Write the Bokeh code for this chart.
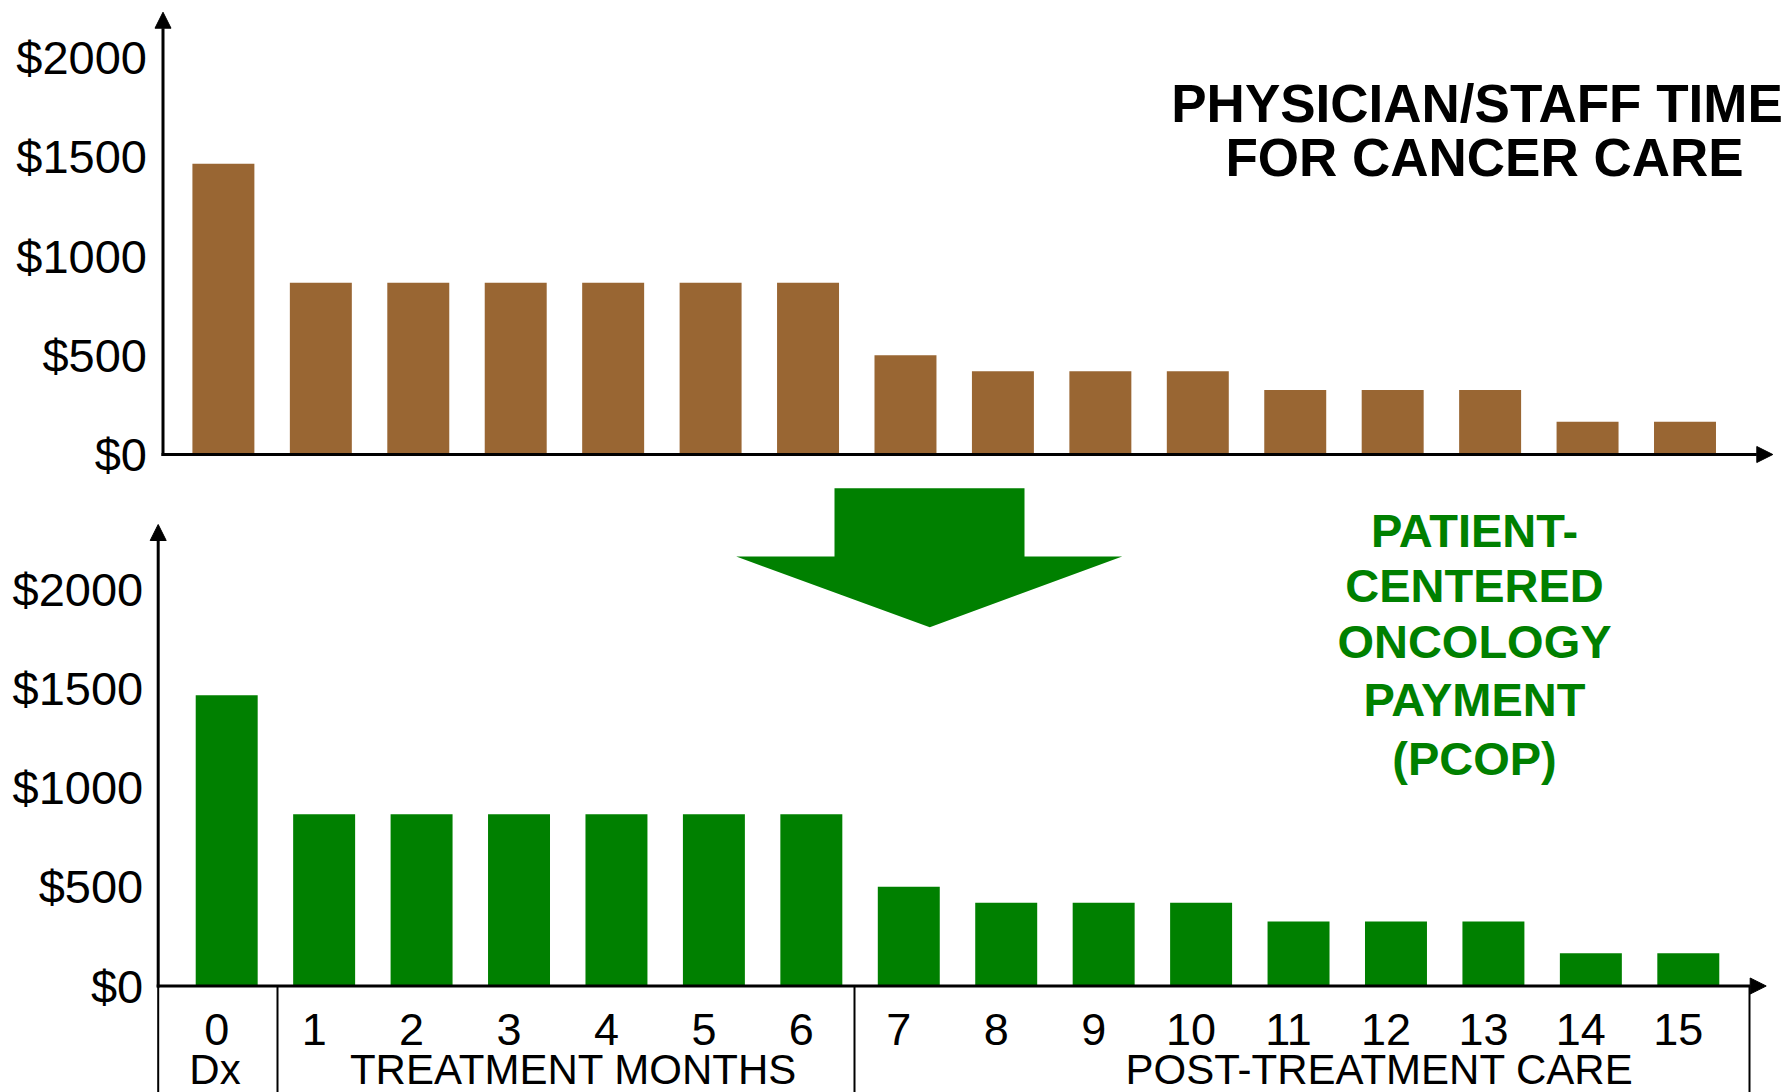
from bokeh.plotting import figure
from bokeh.models import Range1d, ColumnDataSource, Arrow, NormalHead
from bokeh.core.properties import value
from bokeh.embed import file_html
from bokeh.resources import INLINE

# ---------------- data ----------------
months = list(range(16))
month_labels = [str(m) for m in months]
cost_current = [1465, 865, 865, 865, 865, 865, 865, 500, 420, 420, 420, 325, 325, 325, 165, 165]
cost_pcop = [1465, 865, 865, 865, 865, 865, 865, 500, 420, 420, 420, 325, 325, 325, 165, 165]
y_ticks = [0, 500, 1000, 1500, 2000]
y_tick_labels = ["$0", "$500", "$1000", "$1500", "$2000"]
group_labels = ["Dx", "TREATMENT MONTHS", "POST-TREATMENT CARE"]
title_lines = ["PHYSICIAN/STAFF TIME", "FOR CANCER CARE"]
pcop_lines = ["PATIENT-", "CENTERED", "ONCOLOGY", "PAYMENT", "(PCOP)"]

# ---------------- layout (page pixels) ----------------
W, H = 1789, 1092
OX, OY = 0, 0
PX_PER_DOLLAR = 0.1985
PITCH = 97.44
BAR_W = 0.636

top_base_y, top_axis_x, top_bar0_x, top_tip_y, top_xtip = 454.0, 162.5, 222.9, 11.7, 1772.3
bot_base_y, bot_axis_x, bot_bar0_x, bot_tip_y, bot_xtip = 985.5, 157.7, 226.2, 524.0, 1765.7

BROWN = "#996633"
GREEN = "#008000"
SANS = value("Liberation Sans")


def xr(bar0):
    return Range1d((OX - bar0) / PITCH, (OX + W - bar0) / PITCH)


def yr(base):
    return Range1d((base - (OY + H)) / PX_PER_DOLLAR, (base - OY) / PX_PER_DOLLAR)


p = figure(width=W, height=H, x_range=Range1d(OX, OX + W), y_range=Range1d(OY + H, OY),
           output_backend="svg", toolbar_location=None, min_border=0,
           x_axis_location=None, y_axis_location=None, outline_line_color=None,
           background_fill_color="white", border_fill_color="white")
p.grid.visible = False
p.extra_x_ranges = {"top_x": xr(top_bar0_x), "bot_x": xr(bot_bar0_x)}
p.extra_y_ranges = {"top_y": yr(top_base_y), "bot_y": yr(bot_base_y)}

src_top = ColumnDataSource(dict(month=months, cost=cost_current))
src_bot = ColumnDataSource(dict(month=months, cost=cost_pcop, label=month_labels))

# bars
p.vbar(x="month", top="cost", bottom=0, width=BAR_W, source=src_top, fill_color=BROWN,
       line_color=None, x_range_name="top_x", y_range_name="top_y")
p.vbar(x="month", top="cost", bottom=0, width=BAR_W, source=src_bot, fill_color=GREEN,
       line_color=None, x_range_name="bot_x", y_range_name="bot_y")

# y tick labels
p.text(x=[top_axis_x - 16] * len(y_ticks), y=y_ticks, text=y_tick_labels, text_font=SANS,
       text_font_size="47px", text_align="right", text_baseline="middle", text_color="black",
       y_range_name="top_y")
p.text(x=[bot_axis_x - 15] * len(y_ticks), y=y_ticks, text=y_tick_labels, text_font=SANS,
       text_font_size="47px", text_align="right", text_baseline="middle", text_color="black",
       y_range_name="bot_y")

# axes with arrow heads
def axis_arrow(x0, y0, x1, y1):
    p.add_layout(Arrow(end=NormalHead(size=16, fill_color="black", line_color="black", line_width=1),
                       x_start=x0, y_start=y0, x_end=x1, y_end=y1,
                       line_color="black", line_width=3))

axis_arrow(top_axis_x, top_base_y + 1.5, top_axis_x, top_tip_y)
axis_arrow(top_axis_x - 1.5, top_base_y, top_xtip, top_base_y)
axis_arrow(bot_axis_x, bot_base_y + 1.5, bot_axis_x, bot_tip_y)
axis_arrow(bot_axis_x - 1.5, bot_base_y, bot_xtip, bot_base_y)

# category boxes below the lower chart
box_x = [bot_axis_x, 277.0, 854.0, 1749.0]
p.segment(x0=box_x, y0=[bot_base_y] * 4, x1=box_x, y1=[OY + H] * 4, line_color="black", line_width=2)

# month labels
p.text(x="month", y=1029, text="label", source=src_bot, x_offset=-10, text_font=SANS,
       text_font_size="45px", text_align="center", text_baseline="middle", text_color="black",
       x_range_name="bot_x")
p.text(x=[214.5, 573, 1379], y=[1069] * 3, text=group_labels, text_font=SANS,
       text_font_size="42px", text_align="center", text_baseline="middle", text_color="black")

# titles
p.text(x=[1476.5, 1484], y=[103, 157], text=title_lines, text_font=SANS, text_font_style="bold",
       text_font_size="53px", text_align="center", text_baseline="middle", text_color="black")
p.text(x=[1474] * 5, y=[530, 585, 641, 699, 758], text=pcop_lines, text_font=SANS,
       text_font_style="bold", text_font_size="47px", text_align="center", text_baseline="middle",
       text_color=GREEN)

# big green arrow
p.patch(x=[834, 1024, 1024, 1121.7, 929.3, 735.7, 834],
        y=[487.7, 487.7, 556, 556, 626.7, 556, 556], fill_color=GREEN, line_color=None)

open("out.html", "w").write(file_html(p, INLINE))
